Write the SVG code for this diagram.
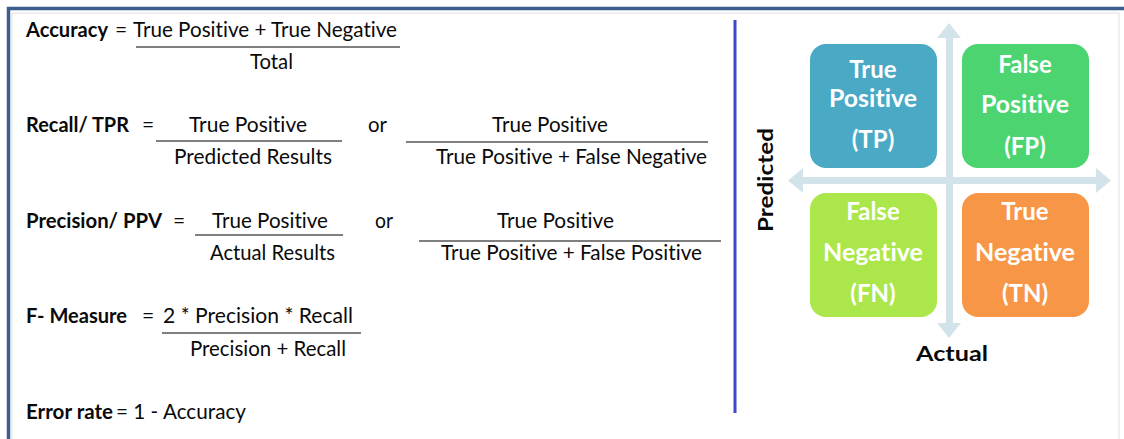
<svg xmlns="http://www.w3.org/2000/svg" width="1124" height="439" viewBox="0 0 1124 439">
<style>
.t{font-family:Lato,"Open Sans","Liberation Sans",sans-serif;font-size:21px;fill:#0a0a0a;font-variant-ligatures:none}
.b{font-weight:bold}
.fl{stroke:#7f7f7f;stroke-width:2}
.bx{font-family:Lato,"Open Sans","Liberation Sans",sans-serif;font-size:24px;font-weight:bold;fill:#fff;text-anchor:middle;font-variant-ligatures:none}
.ax{fill:#d3e3ea}
</style>
<rect width="1124" height="439" fill="#fff"/>
<!-- frame -->
<path d="M12 439 V13 H1119 V439" fill="none" stroke="#e0e0e0" stroke-width="1"/>
<path d="M8.5 439 V8.5 H1124" fill="none" stroke="#3c5e8e" stroke-width="3.5"/>
<!-- divider -->
<line x1="735" y1="20" x2="735" y2="413" stroke="#3f48cc" stroke-width="3"/>

<g id="accuracy">
<text class="t b" x="26" y="37" textLength="82" lengthAdjust="spacingAndGlyphs">Accuracy</text>
<text class="t" x="115" y="37">=</text>
<text class="t" x="133" y="37" textLength="264" lengthAdjust="spacingAndGlyphs">True Positive + True Negative</text>
<line class="fl" x1="136" y1="47" x2="400" y2="47"/>
<text class="t" x="250" y="69" textLength="43" lengthAdjust="spacingAndGlyphs">Total</text>
</g>

<g id="recall">
<text class="t b" x="26" y="132" textLength="103" lengthAdjust="spacingAndGlyphs">Recall/ TPR</text>
<text class="t" x="142" y="132">=</text>
<text class="t" x="189" y="132" textLength="118" lengthAdjust="spacingAndGlyphs">True Positive</text>
<line class="fl" x1="156" y1="141" x2="342" y2="141"/>
<text class="t" x="174" y="164" textLength="158" lengthAdjust="spacingAndGlyphs">Predicted Results</text>
<text class="t" x="368" y="132" textLength="19" lengthAdjust="spacingAndGlyphs">or</text>
<text class="t" x="492" y="132" textLength="116" lengthAdjust="spacingAndGlyphs">True Positive</text>
<line class="fl" x1="406" y1="142" x2="708" y2="142"/>
<text class="t" x="436" y="164" textLength="271" lengthAdjust="spacingAndGlyphs">True Positive + False Negative</text>
</g>

<g id="precision">
<text class="t b" x="26" y="228" textLength="136" lengthAdjust="spacingAndGlyphs">Precision/ PPV</text>
<text class="t" x="173" y="228">=</text>
<text class="t" x="212" y="228" textLength="116" lengthAdjust="spacingAndGlyphs">True Positive</text>
<line class="fl" x1="195" y1="235" x2="343" y2="235"/>
<text class="t" x="210" y="260" textLength="125" lengthAdjust="spacingAndGlyphs">Actual Results</text>
<text class="t" x="375" y="228" textLength="18" lengthAdjust="spacingAndGlyphs">or</text>
<text class="t" x="497" y="228" textLength="117" lengthAdjust="spacingAndGlyphs">True Positive</text>
<line class="fl" x1="419" y1="241" x2="721" y2="241"/>
<text class="t" x="441" y="260" textLength="261" lengthAdjust="spacingAndGlyphs">True Positive + False Positive</text>
</g>

<g id="fmeasure">
<text class="t b" x="26" y="323" textLength="101" lengthAdjust="spacingAndGlyphs">F- Measure</text>
<text class="t" x="142" y="323">=</text>
<text class="t" x="163" y="323" textLength="190" lengthAdjust="spacingAndGlyphs">2 * Precision * Recall</text>
<line class="fl" x1="162" y1="333" x2="361" y2="333"/>
<text class="t" x="190" y="356" textLength="156" lengthAdjust="spacingAndGlyphs">Precision + Recall</text>
</g>

<g id="errorrate">
<text class="t b" x="26" y="419" textLength="87" lengthAdjust="spacingAndGlyphs">Error rate</text>
<text class="t" x="116" y="419" textLength="130" lengthAdjust="spacingAndGlyphs">= 1 - Accuracy</text>
</g>

<g id="axes">
<rect class="ax" x="946" y="36" width="7" height="289"/>
<polygon class="ax" points="949,23 961,38 937,38"/>
<polygon class="ax" points="949,338 961,323 937,323"/>
<rect class="ax" x="800" y="177" width="297" height="7"/>
<polygon class="ax" points="788,180.5 803,168 803,193"/>
<polygon class="ax" points="1111,180.5 1096,168 1096,193"/>
</g>

<g id="tp">
<rect x="810" y="44" width="127" height="124" rx="16" fill="#4aa9c4"/>
<text class="bx" x="873" y="78">True</text>
<text class="bx" x="873" y="107" textLength="88" lengthAdjust="spacingAndGlyphs">Positive</text>
<text class="bx" x="873" y="148">(TP)</text>
</g>
<g id="fp">
<rect x="962" y="44" width="127" height="124" rx="16" fill="#4bd470"/>
<text class="bx" x="1025" y="73">False</text>
<text class="bx" x="1025" y="113" textLength="88" lengthAdjust="spacingAndGlyphs">Positive</text>
<text class="bx" x="1025" y="155">(FP)</text>
</g>
<g id="fn">
<rect x="810" y="193" width="127" height="124" rx="16" fill="#abe74a"/>
<text class="bx" x="873" y="220">False</text>
<text class="bx" x="873" y="261" textLength="100" lengthAdjust="spacingAndGlyphs">Negative</text>
<text class="bx" x="873" y="302">(FN)</text>
</g>
<g id="tn">
<rect x="962" y="193" width="127" height="124" rx="16" fill="#f79646"/>
<text class="bx" x="1025" y="220">True</text>
<text class="bx" x="1025" y="261" textLength="100" lengthAdjust="spacingAndGlyphs">Negative</text>
<text class="bx" x="1025" y="302">(TN)</text>
</g>

<g id="labels">
<text class="t b" transform="translate(773,180) rotate(-90)" text-anchor="middle" font-size="22" textLength="104" lengthAdjust="spacingAndGlyphs">Predicted</text>
<text class="t b" x="952" y="361" text-anchor="middle" font-size="22" textLength="72" lengthAdjust="spacingAndGlyphs">Actual</text>
</g>
</svg>
